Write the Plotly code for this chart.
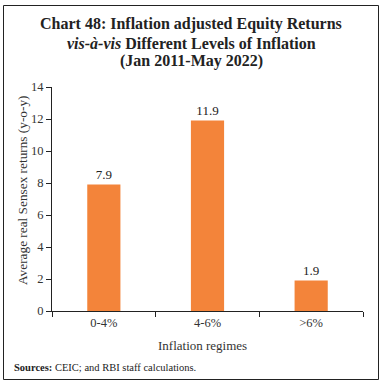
import plotly.graph_objects as go

categories = ["0-4%", "4-6%", ">6%"]
values = [7.9, 11.9, 1.9]
value_labels = ["7.9", "11.9", "1.9"]
y_ticks = [0, 2, 4, 6, 8, 10, 12, 14]

W, H = 383, 384
L, R, T, B = 52, 20, 87, 73
pw, ph = W - L - R, H - T - B

def px(x):
    return (x - L) / pw

def py(y):
    return (H - B - y) / ph

SERIF = "Liberation Serif, Times New Roman, serif"
BAR = "#F3843A"

fig = go.Figure()
fig.add_trace(go.Bar(
    x=categories, y=values, width=0.32,
    marker=dict(color=BAR, line=dict(width=0)),
    text=value_labels, textposition="outside",
    textfont=dict(family=SERIF, size=13, color="#222"),
    cliponaxis=False,
))

fig.update_layout(
    width=W, height=H,
    margin=dict(l=L, r=R, t=T, b=B),
    paper_bgcolor="white", plot_bgcolor="white",
    showlegend=False,
    font=dict(family=SERIF, size=13, color="#222"),
    bargap=0.68,
)
fig.update_xaxes(
    showline=True, linecolor="#222", linewidth=1,
    ticks="outside", ticklen=5, tickcolor="#222", tickson="boundaries",
    tickfont=dict(family=SERIF, size=12.5, color="#333"),
    showgrid=False,
)
fig.update_yaxes(
    range=[0, 14], tickvals=y_ticks,
    showline=True, linecolor="#222", linewidth=1,
    ticks="outside", ticklen=5, tickcolor="#222",
    tickfont=dict(family=SERIF, size=12.5, color="#333"),
    showgrid=False, zeroline=False,
)

annotations = [
    dict(text="<b>Chart 48: Inflation adjusted Equity Returns</b>", x=px(191), y=py(24)),
    dict(text="<b><i>vis-à-vis</i> Different Levels of Inflation</b>", x=px(191), y=py(43)),
    dict(text="<b>(Jan 2011-May 2022)</b>", x=px(191), y=py(61)),
]
for a in annotations:
    fig.add_annotation(xref="paper", yref="paper", showarrow=False,
                       xanchor="center", yanchor="middle",
                       font=dict(family=SERIF, size=16, color="#222"), **a)

fig.add_annotation(xref="paper", yref="paper", showarrow=False,
                   text="Average real Sensex returns (y-o-y)", textangle=-90,
                   x=px(22), y=py(190), xanchor="center", yanchor="middle",
                   font=dict(family=SERIF, size=13.3, color="#333"))
fig.add_annotation(xref="paper", yref="paper", showarrow=False,
                   text="Inflation regimes",
                   x=px(202), y=py(345), xanchor="center", yanchor="middle",
                   font=dict(family=SERIF, size=13, color="#333"))
fig.add_annotation(xref="paper", yref="paper", showarrow=False,
                   text="<b>Sources:</b> CEIC; and RBI staff calculations.",
                   x=px(12), y=py(367), xanchor="left", yanchor="middle",
                   font=dict(family=SERIF, size=10.5, color="#222"))

fig.add_shape(type="rect", xref="paper", yref="paper",
              x0=px(3.5), x1=px(378.5), y0=py(379.5), y1=py(5.5),
              line=dict(color="#222", width=1), fillcolor="rgba(0,0,0,0)", layer="below")

fig.write_html("out.html", config={"displayModeBar": False},
               post_script="document.body.style.margin='0';document.body.style.overflow='hidden';")
